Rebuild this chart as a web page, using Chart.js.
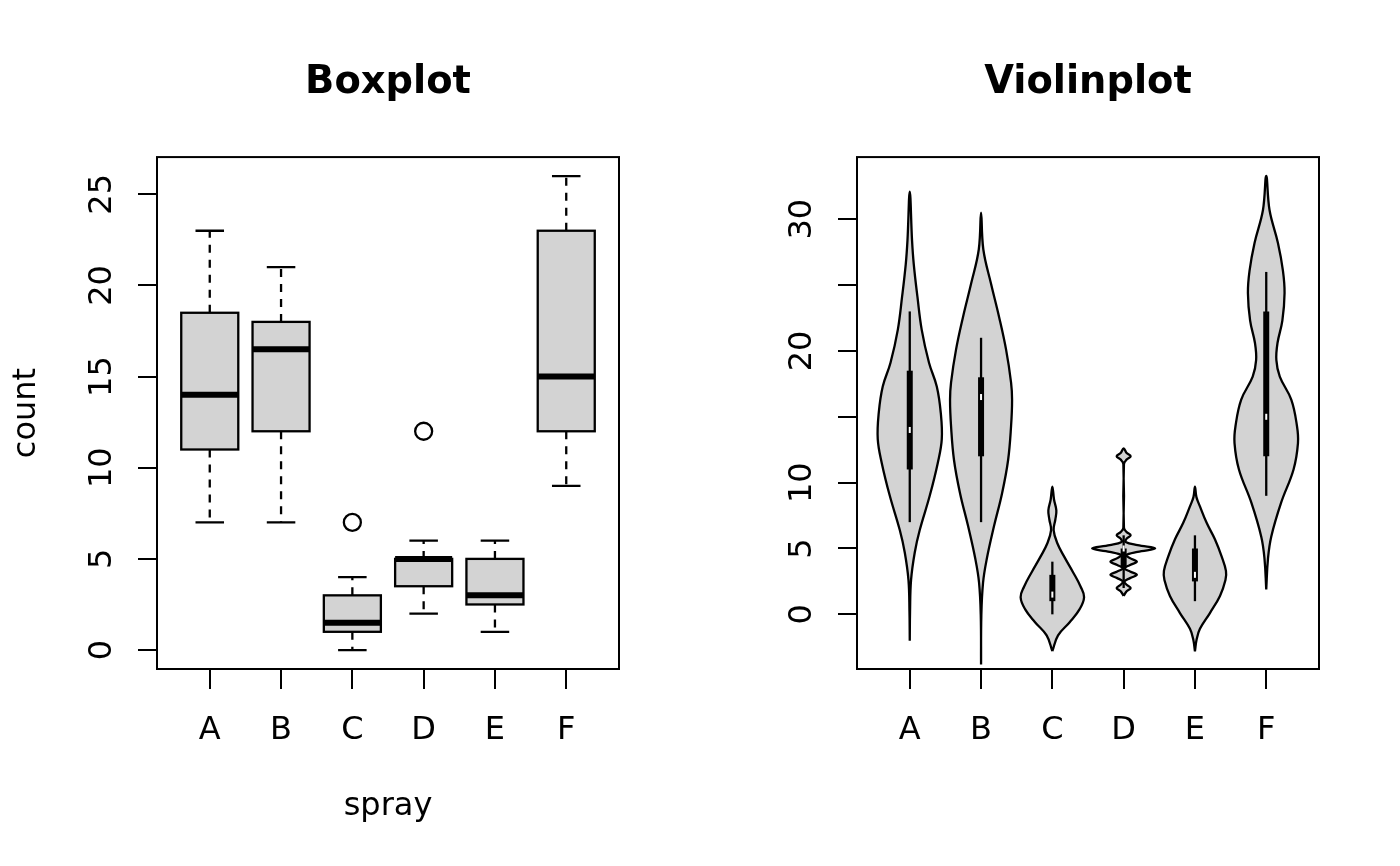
<!DOCTYPE html>
<html>
<head>
<meta charset="utf-8">
<title>Boxplot / Violinplot</title>
<script src="https://cdn.jsdelivr.net/npm/chart.js@4.4.1/dist/chart.umd.min.js"></script>
<style>
    html, body { margin: 0; padding: 0; background: #fff; }
    .wrap { display: flex; width: 1400px; height: 866px; }
    .panel { width: 700px; height: 866px; }
</style>
</head>
<body>
<div class="wrap">
    <div class="panel"><canvas id="boxChart" width="700" height="866"></canvas></div>
    <div class="panel"><canvas id="violinChart" width="700" height="866"></canvas></div>
</div>
<script>
const sprays = ['A', 'B', 'C', 'D', 'E', 'F'];

// five-number summaries per spray, as drawn
const whiskerLow = [7, 7, 0, 2, 1, 9];
const hingeLow = [11, 12, 1, 3.5, 2.5, 12];
const medians = [14, 16.5, 1.5, 5, 3, 15];
const hingeHigh = [18.5, 18, 3, 5, 5, 23];
const whiskerHigh = [23, 21, 4, 6, 6, 26];
const outlierSpray = ['C', 'D'];
const outlierCount = [7, 12];

const boxTicks = [0, 5, 10, 15, 20, 25];
const boxTickLabels = ['0', '5', '10', '15', '20', '25'];
const violinTicks = [0, 5, 10, 15, 20, 25, 30];
const violinTickLabels = ['0', '5', '10', '', '20', '', '30'];

// violin outlines: count level -> half width (category units)
const levelsA = [-2.0, 0.2, 2.6, 4.7, 6.4, 9.0, 11.5, 13.3, 15.3, 17.3, 19.1, 21.6, 24.1, 26.6, 28.4, 32.1];
const widthsA = [0, 0.004, 0.018, 0.07, 0.14, 0.28, 0.393, 0.449, 0.435, 0.379, 0.27, 0.168, 0.108, 0.056, 0.032, 0];
const levelsB = [-3.8, -0.1, 2.4, 4.2, 6.7, 9.2, 11.7, 14.3, 16.3, 17.6, 20.1, 22.6, 25.1, 27.7, 30.5];
const widthsB = [0, 0.004, 0.028, 0.08, 0.182, 0.295, 0.379, 0.421, 0.435, 0.421, 0.351, 0.252, 0.14, 0.032, 0];
const levelsC = [-2.8, -1.6, -0.6, 0.4, 1.3, 2.1, 3.2, 4.4, 5.4, 6.4, 7.2, 7.9, 8.7, 9.7];
const widthsC = [0, 0.08, 0.243, 0.383, 0.445, 0.397, 0.29, 0.164, 0.07, 0.018, 0.042, 0.056, 0.024, 0];
const levelsD = [1.4, 1.75, 2.0, 2.25, 2.5, 2.75, 3.0, 3.25, 3.5, 3.75, 4.0, 4.25, 4.5, 4.75, 5.0, 5.25, 5.5, 5.75, 6.0, 6.25, 6.6, 11.4, 11.75, 12.0, 12.25, 12.6];
const widthsD = [0, 0.042, 0.098, 0.042, 0.011, 0.09, 0.185, 0.09, 0.014, 0.09, 0.185, 0.095, 0.035, 0.196, 0.442, 0.196, 0.028, 0.042, 0.098, 0.042, 0.004, 0.004, 0.042, 0.098, 0.042, 0];
const levelsE = [-2.8, -1.9, -1.1, 0.1, 1.4, 2.6, 3.3, 4.4, 5.7, 6.95, 8.2, 8.9, 9.7];
const widthsE = [0, 0.024, 0.07, 0.21, 0.351, 0.428, 0.435, 0.374, 0.28, 0.164, 0.07, 0.021, 0];
const levelsF = [1.9, 4.2, 5.9, 8.5, 11.0, 13.0, 14.3, 16.3, 18.05, 19.3, 20.6, 22.3, 24.4, 26.1, 28.2, 30.7, 33.3];
const widthsF = [0, 0.024, 0.07, 0.21, 0.383, 0.445, 0.431, 0.351, 0.19, 0.142, 0.158, 0.226, 0.257, 0.234, 0.164, 0.046, 0];

const violinLevels = [levelsA, levelsB, levelsC, levelsD, levelsE, levelsF];
const violinWidths = [widthsA, widthsB, widthsC, widthsD, widthsE, widthsF];

const FONT = 'DejaVu Sans';
const GREY = '#d3d3d3';
const LINE = 2.3;

function xAxis(titleText) {
    return {
        type: 'linear',
        min: 0.26,
        max: 6.74,
        afterFit: (scale) => { scale.height = 197; },
        afterBuildTicks: (scale) => { scale.ticks = sprays.map((s, i) => ({ value: i + 1 })); },
        grid: { drawOnChartArea: false, drawTicks: true, tickLength: 20, color: '#000', lineWidth: 2 },
        border: { display: false },
        ticks: {
            autoSkip: false, maxRotation: 0, padding: 22, color: '#000',
            font: { family: FONT, size: 32 },
            callback: (v) => sprays[v - 1]
        },
        title: titleText
            ? { display: true, text: titleText, color: '#000', font: { family: FONT, size: 32 }, padding: { top: 0, bottom: 40 } }
            : { display: false }
    };
}

function yAxis(min, max, tickValues, titleText) {
    return {
        type: 'linear',
        min: min,
        max: max,
        afterFit: (scale) => { scale.width = 157; },
        afterBuildTicks: (scale) => { scale.ticks = tickValues.map(v => ({ value: v })); },
        grid: { drawOnChartArea: false, drawTicks: true, tickLength: 19, color: '#000', lineWidth: 2 },
        border: { display: false },
        ticks: { display: false },
        title: titleText
            ? { display: true, text: titleText, color: '#000', font: { family: FONT, size: 32 }, padding: { top: 7, bottom: 0 } }
            : { display: false }
    };
}

function titleOptions(text) {
    return {
        display: true,
        text: text,
        fullSize: false,
        color: '#000',
        font: { family: FONT, size: 38.4, weight: 'bold' },
        padding: { top: 60, bottom: 51 }
    };
}

// R-style vertical tick labels + frame around the plot region
function framePlugin(labels) {
    return {
        id: 'frameAndLabels',
        afterDraw(chart) {
            const { ctx, chartArea, scales: { y } } = chart;
            ctx.save();
            ctx.strokeStyle = '#000';
            ctx.lineWidth = 2;
            ctx.strokeRect(chartArea.left, chartArea.top, chartArea.right - chartArea.left, chartArea.bottom - chartArea.top);
            ctx.fillStyle = '#000';
            ctx.font = '32px "' + FONT + '"';
            ctx.textAlign = 'center';
            ctx.textBaseline = 'alphabetic';
            y.ticks.forEach((t, k) => {
                if (!labels[k]) return;
                ctx.save();
                ctx.translate(chartArea.left - 46, y.getPixelForValue(t.value));
                ctx.rotate(-Math.PI / 2);
                ctx.fillText(labels[k], 0, 0);
                ctx.restore();
            });
            ctx.restore();
        }
    };
}

const boxPlugin = {
    id: 'boxes',
    beforeDatasetsDraw(chart) {
        const { ctx, scales: { x, y } } = chart;
        ctx.save();
        ctx.strokeStyle = '#000';
        sprays.forEach((s, i) => {
            const cx = x.getPixelForValue(i + 1);
            const half = x.getPixelForValue(i + 1.4) - cx;
            const cap = x.getPixelForValue(i + 1.2) - cx;
            const yLow = y.getPixelForValue(whiskerLow[i]);
            const yQ1 = y.getPixelForValue(hingeLow[i]);
            const yMed = y.getPixelForValue(medians[i]);
            const yQ3 = y.getPixelForValue(hingeHigh[i]);
            const yHigh = y.getPixelForValue(whiskerHigh[i]);

            // whiskers
            ctx.lineWidth = LINE;
            ctx.setLineDash([8, 7]);
            ctx.beginPath();
            ctx.moveTo(cx, yQ3); ctx.lineTo(cx, yHigh);
            ctx.moveTo(cx, yQ1); ctx.lineTo(cx, yLow);
            ctx.stroke();
            ctx.setLineDash([]);
            ctx.beginPath();
            ctx.moveTo(cx - cap, yHigh); ctx.lineTo(cx + cap, yHigh);
            ctx.moveTo(cx - cap, yLow); ctx.lineTo(cx + cap, yLow);
            ctx.stroke();

            // box
            ctx.fillStyle = GREY;
            ctx.fillRect(cx - half, yQ3, half * 2, yQ1 - yQ3);
            ctx.strokeRect(cx - half, yQ3, half * 2, yQ1 - yQ3);

            // median
            ctx.lineWidth = 6;
            ctx.lineCap = 'butt';
            ctx.beginPath();
            ctx.moveTo(cx - half, yMed); ctx.lineTo(cx + half, yMed);
            ctx.stroke();
        });
        ctx.restore();
    }
};

const violinInnerPlugin = {
    id: 'violinInner',
    afterDatasetsDraw(chart) {
        const { ctx, scales: { x, y } } = chart;
        ctx.save();
        sprays.forEach((s, i) => {
            const cx = x.getPixelForValue(i + 1);
            ctx.strokeStyle = '#000';
            ctx.lineCap = 'butt';
            ctx.lineWidth = LINE;
            ctx.beginPath();
            ctx.moveTo(cx, y.getPixelForValue(whiskerLow[i]));
            ctx.lineTo(cx, y.getPixelForValue(whiskerHigh[i]));
            ctx.stroke();
            ctx.lineWidth = 6;
            ctx.beginPath();
            ctx.moveTo(cx, y.getPixelForValue(hingeLow[i]));
            ctx.lineTo(cx, y.getPixelForValue(hingeHigh[i]));
            ctx.stroke();
            const ym = y.getPixelForValue(medians[i]);
            ctx.fillStyle = '#fff';
            ctx.fillRect(cx - 1, ym - 3, 2, 6);
        });
        ctx.restore();
    }
};

function violinPoints(pos, levels, widths) {
    const right = levels.map((v, k) => ({ x: pos + widths[k], y: v }));
    const left = levels.map((v, k) => ({ x: pos - widths[k], y: v })).reverse();
    return right.concat(left.slice(1));
}

const baseOptions = {
    responsive: false,
    devicePixelRatio: 1,
    animation: false,
    events: [],
    layout: { padding: { left: 0, right: 81, top: 0, bottom: 0 } }
};

new Chart(document.getElementById('boxChart'), {
    type: 'scatter',
    data: {
        datasets: [{
            label: 'outliers',
            data: outlierSpray.map((s, k) => ({ x: sprays.indexOf(s) + 1, y: outlierCount[k] })),
            pointStyle: 'circle',
            pointRadius: 8.5,
            pointBorderWidth: LINE,
            pointBorderColor: '#000',
            pointBackgroundColor: 'rgba(0,0,0,0)',
            showLine: false
        }]
    },
    options: {
        ...baseOptions,
        scales: {
            x: xAxis('spray'),
            y: yAxis(-1.04, 27.04, boxTicks, 'count')
        },
        plugins: {
            legend: { display: false },
            tooltip: { enabled: false },
            title: titleOptions('Boxplot')
        }
    },
    plugins: [boxPlugin, framePlugin(boxTickLabels)]
});

new Chart(document.getElementById('violinChart'), {
    type: 'scatter',
    data: {
        datasets: sprays.map((s, i) => ({
            label: s,
            data: violinPoints(i + 1, violinLevels[i], violinWidths[i]),
            showLine: true,
            fill: 'shape',
            tension: 0.4,
            borderColor: '#000',
            borderWidth: LINE,
            backgroundColor: GREY,
            pointRadius: 0
        }))
    },
    options: {
        ...baseOptions,
        scales: {
            x: xAxis(null),
            y: yAxis(-4.15, 34.72, violinTicks, null)
        },
        plugins: {
            legend: { display: false },
            tooltip: { enabled: false },
            title: titleOptions('Violinplot')
        }
    },
    plugins: [violinInnerPlugin, framePlugin(violinTickLabels)]
});
</script>
</body>
</html>
